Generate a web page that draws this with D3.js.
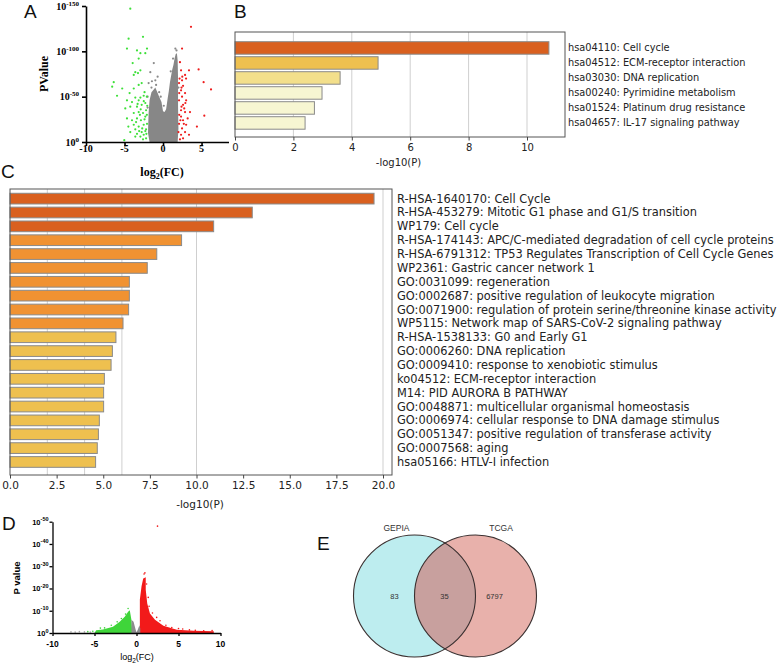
<!DOCTYPE html>
<html><head><meta charset="utf-8">
<script src="https://cdn.jsdelivr.net/npm/d3@7/dist/d3.min.js"></script>
<style>body{margin:0;background:#fff}svg{display:block}</style>
</head><body>
<svg id="fig" width="778" height="664"></svg>
<script>
// ---------------- DATA ----------------
// Panel A volcano (log2FC, -log10 P)
const volcA_green = [[-4.25,147],[-2.6,116],[-4.47,114],[-4.68,103],[-2.08,103],[-3.38,101],[-2.94,98],[-2.3,98],[-3.16,92],[-3.94,87],[-3.6,77],[-3.25,76],[-3.8,74],[-2.94,79],[-6.4,66],[-6.6,61],[-5.3,59],[-5.97,51],[-4.34,54],[-3.8,59],[-3.16,63],[-2.77,65],[-4.68,46],[-4.03,44],[-3.6,49],[-3.16,46],[-2.94,49],[-2.51,51],[-4.9,37],[-4.25,39],[-3.38,39],[-2.77,41],[-2.3,43],[-3.8,32],[-3.16,33],[-2.6,32],[-4.68,26],[-4.03,24],[-3.38,26],[-2.87,24],[-2.3,28],[-3.8,19],[-3.16,17],[-2.51,19],[-2.08,20],[-4.25,11],[-3.38,9],[-2.77,11],[-2.16,9],[-2.94,6],[-5.03,2],[-3.6,6],[-2.51,8],[-2.2,35],[-2.4,25],[-2.7,15],[-2.2,14],[-3.0,30],[-3.5,22],[-2.5,45],[-2.1,50],[-2.6,3],[-2.2,4],[-3.1,12],[-4.5,17],[-3.3,42],[-2.4,55],[-2.1,30],[-2.3,12],[-2.9,36],[-3.6,14],[-2.05,40]];
const volcA_red = [[3.63,127],[2.47,103],[4.62,80],[3.37,79],[2.34,79],[2.86,74],[2.47,68],[2.99,70],[2.08,65],[5.27,66],[2.6,62],[6.23,58],[2.34,57],[2.86,54],[2.47,50],[2.08,46],[3.0,46],[2.6,41],[2.34,35],[2.86,33],[5.36,29],[3.5,33],[2.34,28],[2.6,24],[2.08,20],[3.0,19],[4.4,17],[2.47,15],[2.86,11],[2.34,8],[2.0,11],[3.37,8],[2.6,4],[2.25,24],[2.5,72],[2.9,43],[2.4,39],[2.1,54],[2.2,88],[2.1,30],[2.7,20],[2.2,3],[2.4,60],[2.15,70],[2.75,37],[3.2,26]];
const volcA_grayArea = [[-1.75,0],[-1.95,10],[-1.9,25],[-1.87,32],[-1.75,46],[-1.5,55],[-1.2,58],[-1.0,60],[-0.7,54],[-0.5,50],[-0.2,44],[0.0,34],[0.2,33],[0.4,36],[0.6,48],[0.75,56],[0.9,66],[1.05,73],[1.2,80],[1.35,85],[1.5,92],[1.65,97],[1.8,98],[1.9,90],[1.95,70],[1.95,40],[2.0,15],[1.9,0]];
const volcA_gray = [[-1.2,87],[-1.65,77],[-1.0,68],[-1.87,65],[-1.44,67],[-0.7,72],[-0.9,63],[-1.5,60],[1.6,103],[1.3,92],[-0.3,50],[-0.5,55],[0.1,40],[2.0,60],[-2.0,38],[-2.0,50],[1.0,78],[1.75,101]];
const volcA_xTicks = [-10,-5,0,5];
const volcA_yTicks = [0,50,100,150];

// Panel B KEGG enrichment
const keggTerms = ["hsa04110: Cell cycle","hsa04512: ECM-receptor interaction","hsa03030: DNA replication","hsa00240: Pyrimidine metabolism","hsa01524: Platinum drug resistance","hsa04657: IL-17 signaling pathway"];
const keggValues = [10.75,4.9,3.6,2.98,2.72,2.4];
const keggTicks = [0,2,4,6,8,10];

// Panel C Metascape enrichment
const enrichTerms = ["R-HSA-1640170: Cell Cycle","R-HSA-453279: Mitotic G1 phase and G1/S transition","WP179: Cell cycle","R-HSA-174143: APC/C-mediated degradation of cell cycle proteins","R-HSA-6791312: TP53 Regulates Transcription of Cell Cycle Genes","WP2361: Gastric cancer network 1","GO:0031099: regeneration","GO:0002687: positive regulation of leukocyte migration","GO:0071900: regulation of protein serine/threonine kinase activity","WP5115: Network map of SARS-CoV-2 signaling pathway","R-HSA-1538133: G0 and Early G1","GO:0006260: DNA replication","GO:0009410: response to xenobiotic stimulus","ko04512: ECM-receptor interaction","M14: PID AURORA B PATHWAY","GO:0048871: multicellular organismal homeostasis","GO:0006974: cellular response to DNA damage stimulus","GO:0051347: positive regulation of transferase activity","GO:0007568: aging","hsa05166: HTLV-I infection"];
const enrichValues = [19.52,12.99,10.92,9.2,7.87,7.36,6.4,6.4,6.36,6.06,5.68,5.49,5.42,5.06,5.02,5.02,4.79,4.74,4.68,4.59];
const enrichTicks = [0,2.5,5,7.5,10,12.5,15,17.5,20];
const enrichGrid = [2,4,6,10,20];

// Panel D volcano
const volcD_redArea = [[0.4,0],[0.4,15],[0.6,21],[0.8,24.5],[1.1,25],[1.1,19.4],[1.28,13.3],[1.6,8.8],[2.2,6],[3.2,3.3],[4.8,1.5],[6.8,1.0],[9.2,0.8],[9.2,0]];
const volcD_red = [[1.0,27],[0.9,26.5],[1.2,22],[1.4,16],[1.5,12],[1.9,9],[2.4,7],[2.8,5.5],[3.5,3.5],[4.2,2.5],[5.0,2],[5.5,1.8],[6.3,1.4],[7.0,1.2],[8.0,1.0],[9.0,1.1],[2.5,48]];
const volcD_greenArea = [[-0.5,0],[-0.6,5.8],[-0.8,10.2],[-1.0,9.5],[-1.4,7.3],[-2.0,5],[-2.8,2.8],[-4.0,1.6],[-4.8,1.2],[-5.0,0]];
const volcD_green = [[-1.0,11],[-1.3,8.5],[-1.8,6.5],[-2.3,5],[-3.0,3.5],[-3.8,2.3],[-4.3,2.2],[-5.2,0.8],[-5.8,0.6]];
const volcD_grayArea = [[-0.6,0],[-0.6,6],[-0.35,5],[-0.1,1.5],[0,0.3],[0.15,1.5],[0.35,3.5],[0.45,2],[0.45,0]];
const volcD_gray = [[-6.2,0.5],[-6.8,0.6],[-7.3,0.4],[-7.8,0.5],[-5.5,0.4]];
const volcD_xTicks = [-10,-5,0,5,10];
const volcD_yTicks = [0,10,20,30,40,50];

// Panel E Venn
const vennSets = ["GEPIA","TCGA"];
const vennRegions = ["GEPIA only","both","TCGA only"];
const vennCounts = [83,35,6797];

// ---------------- DRAW ----------------
const svg = d3.select("#fig");
svg.append("rect").attr("width",778).attr("height",664).attr("fill","#fff");

const sansMPL = "'DejaVu Sans', sans-serif";
const serif = "'Liberation Serif', 'Times New Roman', serif";
const arial = "'Liberation Sans', Arial, sans-serif";

// panel letters
const letters = [["A",24,18],["B",234,18],["C",1,178],["D",2,530],["E",317,550]];
svg.selectAll("text.letter").data(letters).join("text").attr("class","letter")
  .attr("x",d=>d[1]).attr("y",d=>d[2]).text(d=>d[0])
  .attr("font-family",arial).attr("font-size",19).attr("fill","#111");

// colour by -log10(P)
const barColor = d3.scaleThreshold().domain([3,4,6,10])
  .range(["#f7f6d2","#f3df8b","#eec04f","#f09232","#d9601f"]);

// ----- Panel A -----
(function(){
  const x = d3.scaleLinear().domain([-10,8.5]).range([86,228.5]);
  const y = d3.scaleLinear().domain([0,150]).range([142,6]);
  const g = svg.append("g");
  const area = d3.line().x(d=>x(d[0])).y(d=>y(d[1]));
  g.append("path").attr("d",area(volcA_grayArea)+"Z").attr("fill","#878787");
  const dots = (arr,col,r)=>g.append("g").selectAll("circle").data(arr).join("circle")
    .attr("cx",d=>x(d[0])).attr("cy",d=>y(d[1])).attr("r",r).attr("fill",col);
  dots(volcA_gray,"#8a8a8a",1.1);
  dots(volcA_green,"#3ee03a",1.1);
  dots(volcA_red,"#ee1c1c",1.1);
  const ax = g.append("g").attr("transform","translate(0,142)")
    .call(d3.axisBottom(x).tickValues(volcA_xTicks).tickSize(4).tickSizeOuter(0).tickFormat(""));
  const ay = g.append("g").attr("transform","translate(86,0)")
    .call(d3.axisLeft(y).tickValues(volcA_yTicks).tickSize(4).tickSizeOuter(0).tickFormat(""));
  [ax,ay].forEach(a=>{a.selectAll("path,line").attr("stroke","#000").attr("stroke-width",1.6);});
  g.selectAll("text.axl").data(volcA_xTicks).join("text").attr("class","axl")
    .attr("x",d=>x(d)).attr("y",152).attr("text-anchor","middle")
    .attr("font-family",serif).attr("font-weight","bold").attr("font-size",10).text(d=>d<0?"-"+Math.abs(d):d);
  const yl = g.selectAll("text.ayl").data(volcA_yTicks).join("text").attr("class","ayl")
    .attr("x",79).attr("y",d=>y(d)+3.5).attr("text-anchor","end")
    .attr("font-family",serif).attr("font-weight","bold").attr("font-size",10);
  yl.append("tspan").text("10");
  yl.append("tspan").attr("dy",-4).attr("font-size",7).text(d=>d===0?"0":"-"+d);
  g.append("text").attr("transform","translate(48,74) rotate(-90)").attr("text-anchor","middle")
    .attr("font-family",serif).attr("font-weight","bold").attr("font-size",12).text("PValue");
  const xl = g.append("text").attr("x",162).attr("y",176).attr("text-anchor","middle")
    .attr("font-family",serif).attr("font-weight","bold").attr("font-size",12);
  xl.append("tspan").text("log");
  xl.append("tspan").attr("dy",3).attr("font-size",8).text("2");
  xl.append("tspan").attr("dy",-3).text("(FC)");
})();

// ----- Panel B -----
(function(){
  const x = d3.scaleLinear().domain([0,10]).range([235,527]);
  const y = d3.scaleBand().domain(keggTerms).range([40.45,130.45]).paddingInner(0.1667).paddingOuter(0.0833);
  const g = svg.append("g");
  g.selectAll("line.grid").data(keggTicks.slice(1)).join("line").attr("class","grid")
    .attr("x1",d=>x(d)).attr("x2",d=>x(d)).attr("y1",32).attr("y2",137)
    .attr("stroke","#cfcfcf").attr("stroke-width",1);
  g.selectAll("rect.bar").data(keggValues).join("rect").attr("class","bar")
    .attr("x",x(0)).attr("y",(d,i)=>y(keggTerms[i])).attr("width",d=>x(d)-x(0)).attr("height",y.bandwidth())
    .attr("fill",d=>barColor(d)).attr("stroke","#8a8a8a").attr("stroke-width",1);
  g.append("rect").attr("x",235).attr("y",32).attr("width",330).attr("height",105)
    .attr("fill","none").attr("stroke","#555").attr("stroke-width",1);
  const ax = g.append("g").attr("transform","translate(0,137)")
    .call(d3.axisBottom(x).tickValues(keggTicks).tickSize(3.5).tickSizeOuter(0).tickPadding(3));
  ax.select(".domain").remove();
  ax.selectAll("line").attr("stroke","#444");
  ax.selectAll("text").attr("font-family",sansMPL).attr("font-size",10).attr("fill","#222");
  g.append("text").attr("x",x(5.6)).attr("y",165.5).attr("text-anchor","middle")
    .attr("font-family",sansMPL).attr("font-size",10).attr("fill","#222").text("-log10(P)");
  g.selectAll("text.lab").data(keggTerms).join("text").attr("class","lab")
    .attr("x",568).attr("y",d=>y(d)+y.bandwidth()/2).attr("dominant-baseline","central")
    .attr("font-family",sansMPL).attr("font-size",9.8).attr("fill","#222").text(d=>d);
})();

// ----- Panel C -----
(function(){
  const x = d3.scaleLinear().domain([0,20]).range([10,383]);
  const y = d3.scaleBand().domain(enrichTerms).range([191.7,468.9]).paddingInner(0.228).paddingOuter(0.114);
  const g = svg.append("g");
  g.selectAll("line.grid").data(enrichGrid).join("line").attr("class","grid")
    .attr("x1",d=>x(d)).attr("x2",d=>x(d)).attr("y1",189).attr("y2",475)
    .attr("stroke","#cfcfcf").attr("stroke-width",1);
  g.selectAll("rect.bar").data(enrichValues).join("rect").attr("class","bar")
    .attr("x",x(0)).attr("y",(d,i)=>y(enrichTerms[i])).attr("width",d=>x(d)-x(0)).attr("height",y.bandwidth())
    .attr("fill",d=>barColor(d)).attr("stroke","#8a8a8a").attr("stroke-width",1);
  g.append("rect").attr("x",10).attr("y",189).attr("width",382).attr("height",286)
    .attr("fill","none").attr("stroke","#555").attr("stroke-width",1);
  const ax = g.append("g").attr("transform","translate(0,475)")
    .call(d3.axisBottom(x).tickValues(enrichTicks).tickSize(3.5).tickSizeOuter(0).tickPadding(3).tickFormat(d3.format(".1f")));
  ax.select(".domain").remove();
  ax.selectAll("line").attr("stroke","#444");
  ax.selectAll("text").attr("font-family",sansMPL).attr("font-size",10.5).attr("fill","#222");
  g.append("text").attr("x",200).attr("y",507.5).attr("text-anchor","middle")
    .attr("font-family",sansMPL).attr("font-size",10.5).attr("fill","#222").text("-log10(P)");
  g.selectAll("text.lab").data(enrichTerms).join("text").attr("class","lab")
    .attr("x",397).attr("y",d=>y(d)+y.bandwidth()/2).attr("dominant-baseline","central")
    .attr("font-family",sansMPL).attr("font-size",11.4).attr("fill","#222").text(d=>d);
})();

// ----- Panel D -----
(function(){
  const x = d3.scaleLinear().domain([-10,10]).range([52.5,220.5]);
  const y = d3.scaleLinear().domain([0,50]).range([633,521.7]);
  const g = svg.append("g");
  const line = d3.line().x(d=>x(d[0])).y(d=>y(d[1]));
  g.append("path").attr("d",line(volcD_greenArea)+"Z").attr("fill","#3fd53a");
  g.append("path").attr("d",line(volcD_redArea)+"Z").attr("fill","#f21a1a");
  g.append("path").attr("d",line(volcD_grayArea)+"Z").attr("fill","#8c8c8c");
  const dots = (arr,col)=>g.append("g").selectAll("circle").data(arr).join("circle")
    .attr("cx",d=>x(d[0])).attr("cy",d=>y(d[1])).attr("r",0.8).attr("fill",col);
  dots(volcD_green,"#3fd53a"); dots(volcD_red,"#f21a1a"); dots(volcD_gray,"#aaa");
  const ax = g.append("g").attr("transform","translate(0,633)")
    .call(d3.axisBottom(x).tickValues(volcD_xTicks).tickSize(3).tickSizeOuter(0).tickFormat(""));
  const ay = g.append("g").attr("transform","translate(52.5,0)")
    .call(d3.axisLeft(y).tickValues(volcD_yTicks).tickSize(3).tickSizeOuter(0).tickFormat(""));
  [ax,ay].forEach(a=>{a.selectAll("path,line").attr("stroke","#000").attr("stroke-width",1.3);});
  g.selectAll("text.axl").data(volcD_xTicks).join("text").attr("class","axl")
    .attr("x",d=>x(d)).attr("y",646.5).attr("text-anchor","middle")
    .attr("font-family",arial).attr("font-weight","bold").attr("font-size",8.5).text(d=>d<0?"-"+Math.abs(d):d);
  const yl = g.selectAll("text.ayl").data(volcD_yTicks).join("text").attr("class","ayl")
    .attr("x",48.5).attr("y",d=>y(d)+3).attr("text-anchor","end")
    .attr("font-family",arial).attr("font-weight","bold").attr("font-size",7.5);
  yl.append("tspan").text("10");
  yl.append("tspan").attr("dy",-3.5).attr("font-size",5.5).text(d=>d===0?"0":"-"+d);
  g.append("text").attr("transform","translate(20,578) rotate(-90)").attr("text-anchor","middle")
    .attr("font-family",arial).attr("font-weight","bold").attr("font-size",9.5).text("P value");
  const xl = g.append("text").attr("x",137).attr("y",660).attr("text-anchor","middle")
    .attr("font-family",arial).attr("font-size",9);
  xl.append("tspan").text("log");
  xl.append("tspan").attr("dy",2.5).attr("font-size",6.5).text("2");
  xl.append("tspan").attr("dy",-2.5).text("(FC)");
})();

// ----- Panel E -----
(function(){
  const cx = d3.scalePoint().domain(vennSets).range([414.5,475.5]);
  const cy = 596, r = 61;
  const g = svg.append("g");
  const fills = d3.scaleOrdinal().domain(vennSets).range(["#bdedef","#e8b1ab"]);
  g.append("clipPath").attr("id","clipL").append("circle").attr("cx",cx("GEPIA")).attr("cy",cy).attr("r",r);
  g.selectAll("circle.fill").data(vennSets).join("circle").attr("class","fill")
    .attr("cx",d=>cx(d)).attr("cy",cy).attr("r",r).attr("fill",d=>fills(d));
  g.append("circle").attr("cx",cx("TCGA")).attr("cy",cy).attr("r",r).attr("fill","#c8a09e").attr("clip-path","url(#clipL)");
  g.selectAll("circle.edge").data(vennSets).join("circle").attr("class","edge")
    .attr("cx",d=>cx(d)).attr("cy",cy).attr("r",r).attr("fill","none").attr("stroke","#3a3030").attr("stroke-width",1.1);
  const nameOffset = d3.scaleOrdinal().domain(vennSets).range([-18,25.5]);
  g.selectAll("text.set").data(vennSets).join("text").attr("class","set")
    .attr("x",d=>cx(d)+nameOffset(d)).attr("y",530.5).attr("text-anchor","middle")
    .attr("font-family",arial).attr("font-size",8.5).attr("fill","#333").text(d=>d);
  const rx = d3.scalePoint().domain(vennRegions).range([394.5,494.5]);
  g.selectAll("text.cnt").data(vennCounts).join("text").attr("class","cnt")
    .attr("x",(d,i)=>rx(vennRegions[i])).attr("y",cy+3).attr("text-anchor","middle")
    .attr("font-family",arial).attr("font-size",7.5).attr("fill","#333").text(d=>d);
})();
</script>
</body></html>
